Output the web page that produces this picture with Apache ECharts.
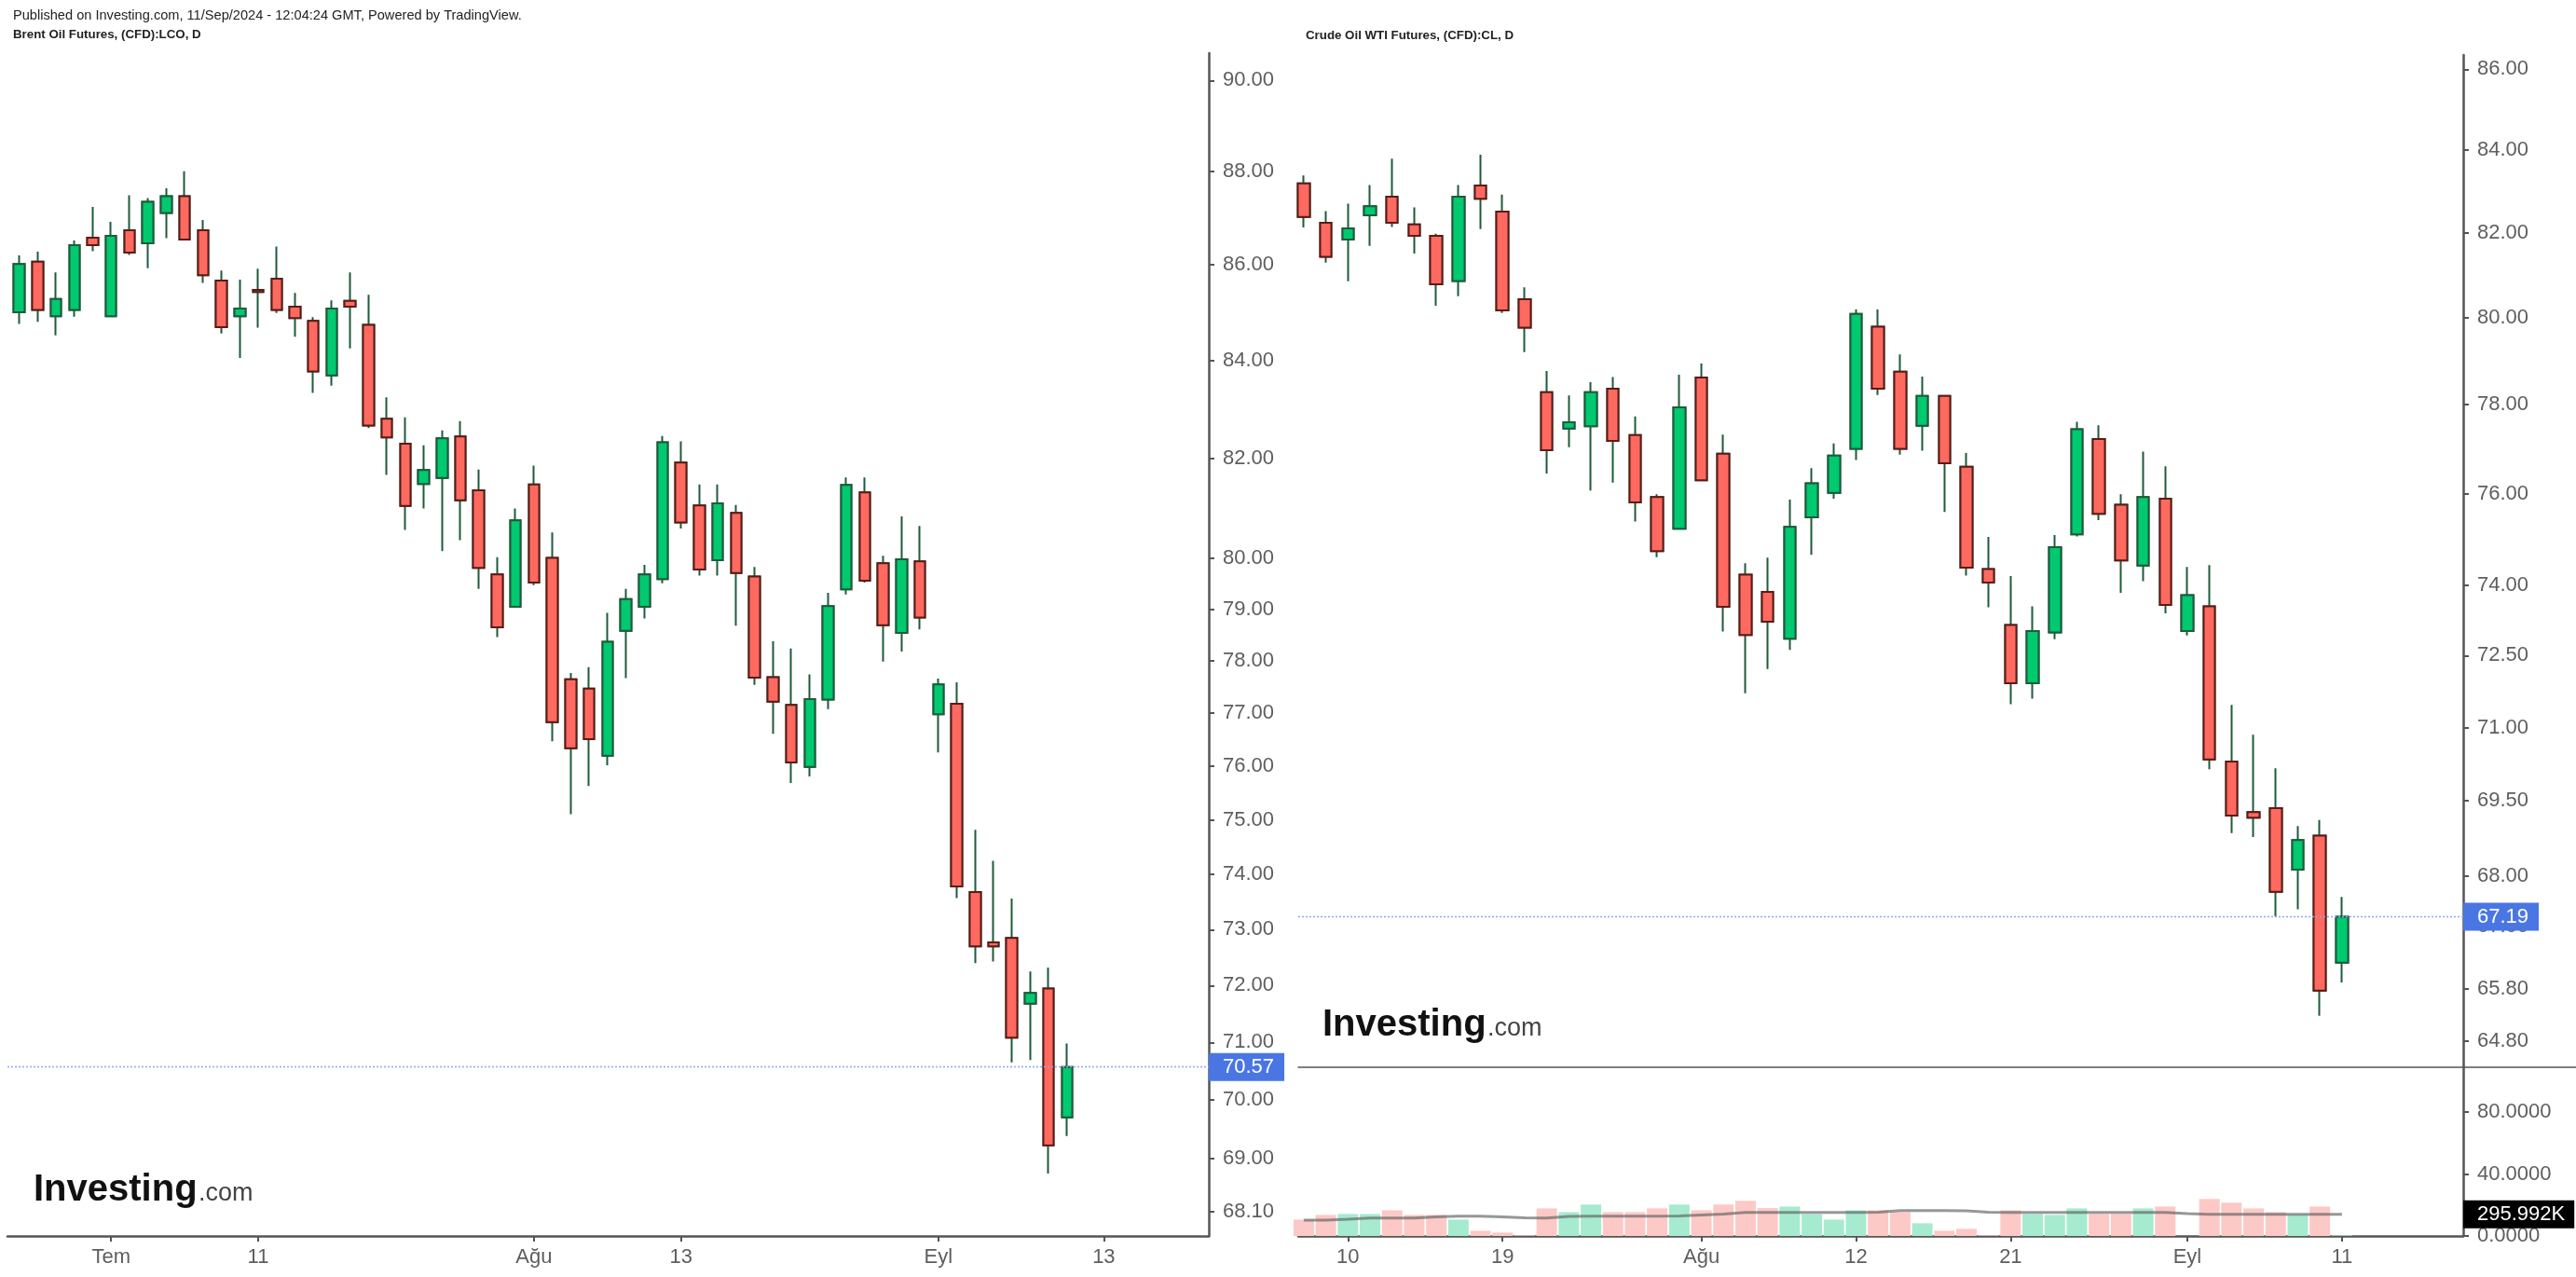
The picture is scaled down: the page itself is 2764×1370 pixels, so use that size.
<!DOCTYPE html>
<html><head><meta charset="utf-8">
<script src="https://cdn.jsdelivr.net/npm/echarts@6/dist/echarts.min.js"></script>
<style>html,body{margin:0;padding:0;background:#fff;}#c{width:2764px;height:1370px;}</style>
</head><body><div id="c"></div>
<script>
// ---------- Brent (LCO) daily ----------
const brentDates = ['06-24','06-25','06-26','06-27','06-28','07-01','07-02','07-03','07-04','07-05','07-08','07-09','07-10','07-11','07-12','07-15','07-16','07-17','07-18','07-19','07-22','07-23','07-24','07-25','07-26','07-29','07-30','07-31','08-01','08-02','08-05','08-06','08-07','08-08','08-09','08-12','08-13','08-14','08-15','08-16','08-19','08-20','08-21','08-22','08-23','08-26','08-27','08-28','08-29','08-30','09-02','09-03','09-04','09-05','09-06','09-09','09-10','09-11'];
const brentOpen  = [85.00,86.07,84.92,85.05,86.58,84.92,86.74,86.46,87.11,87.47,86.74,85.67,84.92,85.47,85.71,85.12,84.82,83.69,85.24,84.74,82.80,82.29,81.48,81.60,82.44,81.35,79.68,79.05,81.47,80.01,77.65,77.47,76.20,78.58,79.05,79.59,81.91,81.05,79.96,80.90,79.64,77.69,77.16,75.99,77.26,79.39,81.31,79.90,78.54,79.94,76.98,77.18,73.68,72.77,72.85,71.68,71.95,69.70];
const brentHigh  = [86.20,86.28,85.84,86.52,87.24,86.92,87.49,87.43,87.64,88.01,86.96,85.88,85.69,85.92,86.39,85.41,84.90,85.25,85.84,85.37,83.24,82.83,82.26,82.56,82.75,81.77,80.02,80.99,81.85,80.51,77.77,77.88,78.93,79.40,79.87,82.45,82.34,81.47,81.47,81.06,79.83,78.38,78.24,77.74,79.32,81.61,81.61,80.05,80.83,80.64,77.66,77.59,74.82,74.25,73.56,72.25,72.32,70.98];
const brentLow   = [84.76,84.80,84.52,84.91,86.29,84.92,86.21,85.93,86.57,86.54,85.62,84.56,84.05,84.68,84.99,84.49,83.33,83.48,84.25,82.61,81.66,80.56,80.99,80.14,80.36,79.40,78.46,79.05,79.47,76.47,75.11,75.63,76.02,77.67,78.82,79.51,80.59,79.66,79.66,78.68,77.54,76.61,75.69,75.81,77.08,79.29,79.52,77.99,78.18,78.61,76.26,73.57,72.40,72.43,70.65,70.69,68.74,69.38];
const brentClose = [86.02,85.05,85.28,86.42,86.42,86.62,86.26,87.35,87.47,86.54,85.78,84.69,85.08,85.43,85.05,84.88,83.77,85.08,85.12,82.66,82.42,81.04,81.76,82.40,81.15,79.81,78.65,80.75,79.52,76.83,76.34,76.51,78.37,79.20,79.68,82.32,80.71,79.78,81.09,79.71,77.68,77.22,76.07,77.27,79.06,81.46,79.56,78.69,79.98,78.84,77.55,73.78,72.70,72.70,71.08,71.87,69.22,70.57];
const brentPriceTicks = [68.10,69,70,71,72,73,74,75,76,77,78,79,80,82,84,86,88,90];
const brentDateTickIndex = [5,13,28,36,50,59];
const brentDateTickText  = ['Tem','11','Ağu','13','Eyl','13'];

// ---------- WTI (CL) daily ----------
const wtiDates = ['07-08','07-09','07-10','07-11','07-12','07-15','07-16','07-17','07-18','07-19','07-22','07-23','07-24','07-25','07-26','07-29','07-30','07-31','08-01','08-02','08-05','08-06','08-07','08-08','08-09','08-12','08-13','08-14','08-15','08-16','08-19','08-20','08-21','08-22','08-23','08-26','08-27','08-28','08-29','08-30','09-02','09-03','09-04','09-05','09-06','09-09','09-10','09-11'];
const wtiOpen  = [83.19,82.24,81.84,82.42,82.87,82.20,81.93,80.86,83.14,82.51,80.43,78.28,77.46,77.51,78.36,77.31,75.93,75.23,78.62,76.89,74.23,73.86,72.86,75.48,76.02,77.00,79.79,78.75,77.52,78.20,76.60,74.35,73.15,71.92,72.99,75.11,77.22,75.76,74.43,75.89,73.02,73.55,70.30,69.27,69.35,68.12,68.80,66.30];
const wtiHigh  = [83.38,82.52,82.70,83.15,83.79,82.61,81.98,83.15,83.89,82.92,80.71,78.77,78.21,78.51,78.63,77.73,75.99,78.68,78.94,77.32,74.48,74.60,75.87,76.57,77.12,80.19,80.19,79.15,78.64,78.20,76.91,75.05,74.20,73.55,75.09,77.61,77.53,75.99,76.94,76.61,74.40,74.44,71.47,70.85,70.16,68.99,69.11,67.58];
const wtiLow   = [82.13,81.29,80.85,81.69,82.14,81.51,80.28,80.50,82.09,80.11,79.20,76.45,77.04,76.07,76.25,75.39,74.61,75.23,76.30,73.01,71.71,72.22,72.62,74.66,75.89,76.75,78.22,76.87,76.96,75.60,74.21,73.53,71.48,71.60,72.85,75.06,75.42,73.84,74.09,73.40,72.93,70.14,68.85,68.77,67.20,67.34,65.28,65.92];
const wtiClose = [82.38,81.43,82.11,82.64,82.24,81.93,80.78,82.87,82.82,80.17,79.77,76.97,77.60,78.28,77.18,75.81,74.74,77.94,76.30,73.54,72.94,73.22,75.27,76.23,76.85,80.09,78.36,77.00,78.20,76.68,74.38,74.06,71.92,73.02,74.83,77.44,75.56,74.54,75.93,73.58,73.79,70.34,69.20,69.16,67.68,68.71,65.76,67.19];
const wtiVolume   = [10.6,13.6,14.2,14.2,16.6,13.6,13.6,10.6,3.4,2.2,0.4,17.8,15.4,20.3,15.4,15.4,17.8,20.3,16.6,20.3,22.7,18.0,19.0,14.2,10.6,16.6,16.6,15.4,8.2,3.4,4.6,0.4,16.6,14.2,13.6,17.8,14.2,14.2,17.8,19.0,0,23.9,21.5,17.8,15.4,13.6,19.0,0.4];
const wtiVolumeMA = [10.2,10.2,10.8,11.6,11.6,11.6,12.4,12.8,12.8,12.4,11.8,11.6,12.6,12.8,12.8,12.8,12.8,13.0,13.6,14.2,15.2,15.2,15.2,15.2,15.2,15.2,15.4,16.4,16.4,16.4,16.2,15.4,15.2,15.2,15.2,15.2,15.2,15.2,15.2,15.2,14.4,14.0,14.0,14.0,14.0,14.0,14.0,14.0];
const wtiVolumeMALabel = '295.992K';
const wtiPriceTicks = [64.80,65.80,67,68,69.5,71,72.5,74,76,78,80,82,84,86];
const volumeTicks = [0,40,80];
const wtiDateTickIndex = [2,9,18,25,32,40,47];
const wtiDateTickText  = ['10','19','Ağu','12','21','Eyl','11'];

// ---------- styles ----------
const FONT = '"Liberation Sans", Arial, sans-serif';
const UP = '#00c96f', DOWN = '#ff6a60', UPB = '#1e5b3b', DOWNB = '#5c1a17', WICK = '#1e5b3b';
const AX = '#555555', LBL = '#5e5e5e';

function candleData(o,h,l,c){ return o.map((v,i)=>[i, v, c[i], l[i], h[i]]); }
function bodyData(o,c){ return o.map((v,i)=>[i, v, c[i], Math.min(v,c[i]), Math.max(v,c[i])]); }
function tickMap(idx, txt){ const m = {}; idx.forEach((v,i)=>{ m[v] = txt[i]; }); return m; }
const brentTickMap = tickMap(brentDateTickIndex, brentDateTickText);
const wtiTickMap = tickMap(wtiDateTickIndex, wtiDateTickText);

function xAxisCfg(gridIndex, min, max, idx, map, showLabels){
  return {
    type:'value', gridIndex, min, max, position:'bottom',
    axisLine:{show:true, onZero:false, lineStyle:{color:AX, width:2.5}},
    axisTick:{show:showLabels, customValues:idx, length:6, lineStyle:{color:AX, width:2}},
    axisLabel:{show:showLabels, customValues:idx, formatter:v=>map[Math.round(v)]||'', color:LBL, fontSize:22, fontFamily:FONT, margin:12},
    splitLine:{show:false}
  };
}
function yLogCfg(gridIndex, min, max, ticks){
  return {
    type:'log', logBase:10, gridIndex, min, max, position:'right',
    axisLine:{show:true, onZero:false, lineStyle:{color:AX, width:2.5}},
    axisTick:{show:true, customValues:ticks, length:6, lineStyle:{color:AX, width:2}},
    axisLabel:{show:true, customValues:ticks, formatter:v=>Number(v).toFixed(2), color:LBL, fontSize:22, fontFamily:FONT, margin:15},
    splitLine:{show:false}
  };
}
function priceLine(value){
  return {
    silent:true, symbol:['none','none'], animation:false,
    lineStyle:{color:'#8ea8f2', type:[2,2], width:1.3},
    label:{show:true, position:'end', distance:0, formatter:()=>value.toFixed(2), color:'#fff', backgroundColor:'#4a76e4', fontSize:22, fontFamily:FONT, padding:[4,11,4,15]},
    data:[{yAxis:value}]
  };
}
function candleSeries(x, y, o,h,l,c, w){
  return [{
    type:'candlestick', xAxisIndex:x, yAxisIndex:y, barWidth:w, animation:false,
    encode:{x:0, y:[1,2,3,4]}, data:candleData(o,h,l,c),
    itemStyle:{color:UP, color0:DOWN, borderColor:WICK, borderColor0:WICK, borderColorDoji:WICK, borderWidth:2}
  },{
    type:'candlestick', xAxisIndex:x, yAxisIndex:y, barWidth:w, animation:false,
    encode:{x:0, y:[1,2,3,4]}, data:bodyData(o,c),
    itemStyle:{color:UP, color0:DOWN, borderColor:UPB, borderColor0:DOWNB, borderColorDoji:DOWNB, borderWidth:2},
    markLine:priceLine(c[c.length-1])
  }];
}

const volBars = wtiVolume.map((v,i)=>({value:[i,v], itemStyle:{color: wtiClose[i] >= wtiOpen[i] ? '#a6ebd0' : '#fcc9c6'}}));

const option = {
  backgroundColor:'#ffffff',
  animation:false,
  textStyle:{fontFamily:FONT},
  grid:[
    {left:8, right:2764-1297, top:57, bottom:1370-1326, outerBoundsMode:'none', containLabel:false},
    {left:1393, right:2764-2643, top:59, bottom:1370-1145, outerBoundsMode:'none', containLabel:false},
    {left:1393, right:2764-2643, top:1145, bottom:1370-1326, outerBoundsMode:'none', containLabel:false}
  ],
  xAxis:[
    xAxisCfg(0, -0.64, 64.71, brentDateTickIndex, brentTickMap, true),
    Object.assign(xAxisCfg(1, -0.25, 52.49, wtiDateTickIndex, wtiTickMap, false), {axisLine:{show:true, onZero:false, lineStyle:{color:AX, width:1.5}}}),
    xAxisCfg(2, -0.25, 52.49, wtiDateTickIndex, wtiTickMap, true)
  ],
  yAxis:[
    yLogCfg(0, 67.69, 90.61, brentPriceTicks),
    yLogCfg(1, 64.31, 86.36, wtiPriceTicks),
    {
      type:'value', gridIndex:2, min:0, max:108.9, position:'right',
      axisLine:{show:true, onZero:false, lineStyle:{color:AX, width:2.5}},
      axisTick:{show:true, customValues:volumeTicks, length:6, lineStyle:{color:AX, width:2}},
      axisLabel:{show:true, customValues:volumeTicks, formatter:v=>Number(v).toFixed(4), color:LBL, fontSize:22, fontFamily:FONT, margin:15},
      splitLine:{show:false}
    }
  ],
  series:[
    ...candleSeries(0,0, brentOpen,brentHigh,brentLow,brentClose, 12),
    ...candleSeries(1,1, wtiOpen,wtiHigh,wtiLow,wtiClose, 13),
    {
      type:'bar', xAxisIndex:2, yAxisIndex:2, barWidth:22, data:volBars, animation:false
    },
    {
      type:'line', xAxisIndex:2, yAxisIndex:2, data:wtiVolumeMA.map((v,i)=>[i,v]), symbol:'none', animation:false,
      lineStyle:{color:'rgba(95,95,95,0.65)', width:3}, z:3,
      markLine:{
        silent:true, symbol:['none','none'], animation:false,
        lineStyle:{color:'rgba(0,0,0,0)', width:0},
        label:{show:true, position:'end', distance:0, formatter:()=>wtiVolumeMALabel, color:'#fff', backgroundColor:'#000', fontSize:22, fontFamily:FONT, padding:[4,10,4,15]},
        data:[{yAxis:wtiVolumeMA[wtiVolumeMA.length-1]}]
      }
    }
  ],
  graphic:[
    {type:'text', left:14, top:9, style:{text:'Published on Investing.com, 11/Sep/2024 - 12:04:24 GMT, Powered by TradingView.', font:'14.6px '+FONT, fill:'#222'}},
    {type:'text', left:14, top:31, style:{text:'Brent Oil Futures, (CFD):LCO, D', font:'bold 13.3px '+FONT, fill:'#222'}},
    {type:'text', left:1401, top:32, style:{text:'Crude Oil WTI Futures, (CFD):CL, D', font:'bold 13.3px '+FONT, fill:'#222'}},
    {type:'text', x:36, y:1297, style:{text:'Investing', font:'bold 40px '+FONT, fill:'#111', verticalAlign:'bottom'}},
    {type:'text', x:213, y:1294, style:{text:'.com', font:'27px '+FONT, fill:'#444', verticalAlign:'bottom'}},
    {type:'text', x:1419, y:1120, style:{text:'Investing', font:'bold 40px '+FONT, fill:'#111', verticalAlign:'bottom'}},
    {type:'text', x:1596, y:1117, style:{text:'.com', font:'27px '+FONT, fill:'#444', verticalAlign:'bottom'}},
    {type:'line', shape:{x1:2643, y1:1145, x2:2764, y2:1145}, style:{stroke:AX, lineWidth:1.5}}
  ]
};
const chart = echarts.init(document.getElementById('c'), null, {renderer:'canvas'});
chart.setOption(option);
</script>
</body></html>
